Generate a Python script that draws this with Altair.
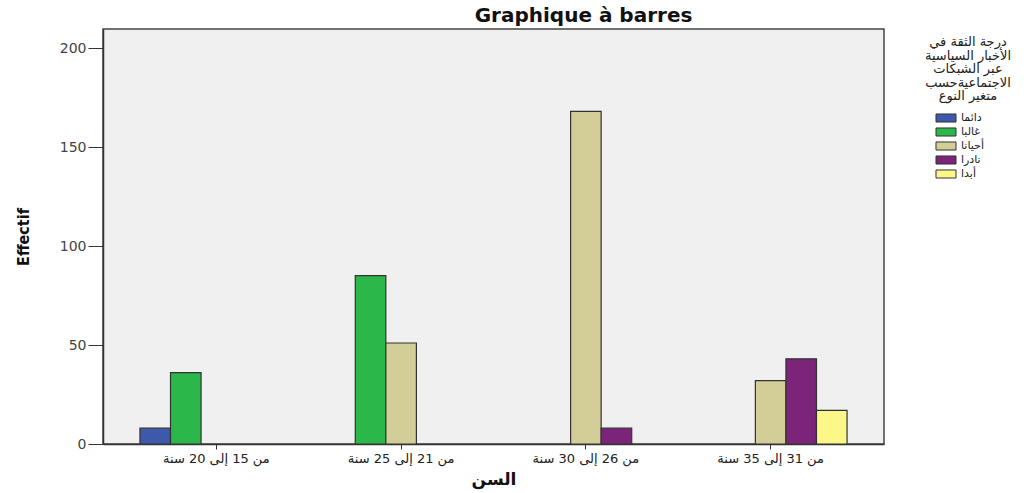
import altair as alt
import pandas as pd

# Age groups (x axis) and response categories (clusters)
age_groups = ["من 15 إلى 20 سنة", "من 21 إلى 25 سنة", "من 26 إلى 30 سنة", "من 31 إلى 35 سنة"]
responses = ["دائما", "غالبا", "أحيانا", "نادرا", "أبدا"]
colors = ["#3e58ac", "#2cb74a", "#d3ce97", "#7c2479", "#fbf887"]

# Non-zero counts only (zero cells are not drawn)
bar_age = [age_groups[0], age_groups[0],
           age_groups[1], age_groups[1],
           age_groups[2], age_groups[2],
           age_groups[3], age_groups[3], age_groups[3]]
bar_resp = ["دائما", "غالبا",
            "غالبا", "أحيانا",
            "أحيانا", "نادرا",
            "أحيانا", "نادرا", "أبدا"]
bar_count = [8, 36, 85, 51, 168, 8, 32, 43, 17]

df = pd.DataFrame({"age": bar_age, "resp": bar_resp, "count": bar_count})

legend_title = ["درجة الثقة في", "الأخبار السياسية", "عبر الشبكات",
                "الاجتماعيةحسب", "متغير النوع"]

FONT = "DejaVu Sans"

bars = alt.Chart(df).mark_bar(stroke="#333333", strokeWidth=1.2).encode(
    x=alt.X("age:N", sort=age_groups,
            scale=alt.Scale(domain=age_groups, paddingInner=0.173, paddingOuter=0.2),
            axis=alt.Axis(title="السن", labelAngle=0, labelFontSize=13,
                          labelColor="#222222", labelFont=FONT,
                          titleFont=FONT, titleFontSize=17,
                          titleFontWeight="bold", titleColor="#111111",
                          titlePadding=6, tickSize=5, tickColor="#333333",
                          domainColor="#333333", domainWidth=1.5, labelPadding=3)),
    xOffset=alt.XOffset("resp:N", sort=responses,
                        scale=alt.Scale(domain=responses, paddingInner=0, paddingOuter=0)),
    y=alt.Y("count:Q", scale=alt.Scale(domain=[0, 209.6], nice=False),
            axis=alt.Axis(title="Effectif", values=[0, 50, 100, 150, 200], grid=False,
                          labelFontSize=14, labelColor="#444444", labelFont=FONT,
                          titleFont="DejaVu Sans Condensed", titleFontSize=16,
                          titleFontWeight="bold", titleColor="#111111", titlePadding=28,
                          tickSize=15, tickColor="#333333", domainColor="#333333",
                          domainWidth=1.5, labelPadding=2)),
    color=alt.Color("resp:N", sort=responses,
                    scale=alt.Scale(domain=responses, range=colors),
                    legend=alt.Legend(
                        title=legend_title, orient="none", legendX=822, legendY=7,
                        titleFont=FONT, titleFontSize=13,
                        titleFontWeight="normal", titleColor="#222222",
                        titleAlign="center", titleAnchor="middle", titleLineHeight=13.5,
                        titlePadding=8,
                        symbolType="M-1.54,-0.62L1.54,-0.62L1.54,0.62L-1.54,0.62Z",
                        symbolSize=169, symbolOffset=-13,
                        symbolStrokeColor="#333333", symbolStrokeWidth=1,
                        symbolOpacity=1, labelFont=FONT,
                        labelFontSize=11, labelColor="#222222", rowPadding=0,
                        labelOffset=8)),
)

chart = bars.properties(
    width=781,
    height=415,
    title=alt.TitleParams("Graphique à barres", font=FONT, fontSize=20,
                          fontWeight="bold", color="#111111", dx=90, offset=3),
    autosize=alt.AutoSizeParams(type="none"),
    padding={"left": 103, "top": 29, "right": 151, "bottom": 49},
    background="white",
).configure_view(
    fill="#f0f0f0", stroke="#444444", strokeWidth=1.5
)

chart.save("out.html", embed_options={"renderer": "svg", "actions": False})
